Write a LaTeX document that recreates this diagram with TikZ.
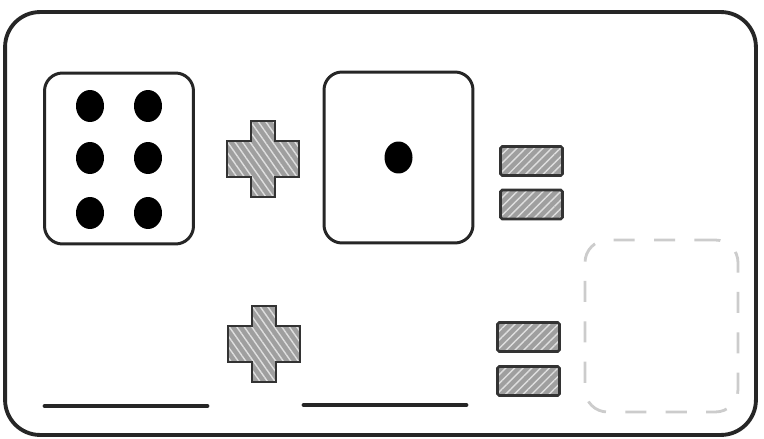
\documentclass[tikz,border=0pt]{standalone}
\usetikzlibrary{shapes.geometric, patterns.meta}

\begin{document}
\begin{tikzpicture}[x=0.02cm, y=-0.02cm,
  card/.style={draw=black!85, line width=2.2pt, rounded corners=0.7cm,
               minimum width=15.02cm, minimum height=8.46cm},
  die/.style={draw=black!85, line width=1.7pt, rounded corners=0.36cm,
              minimum width=2.98cm, minimum height=3.42cm},
  pip/.style={ellipse, fill=black, inner sep=0pt,
              minimum width=0.56cm, minimum height=0.64cm},
  hatch/.style={draw=black!80, line width=1.5pt, preaction={fill=gray!75},
                pattern={Lines[angle=45, distance=3.5pt, line width=0.8pt]},
                pattern color=gray!25},
  bar/.style={hatch, rounded corners=1pt, inner sep=0pt,
              minimum width=1.24cm, minimum height=0.58cm},
  slot/.style={draw=gray!40, line width=1.6pt, rounded corners=0.45cm,
               dash pattern=on 12pt off 11pt,
               minimum width=3.06cm, minimum height=3.44cm},
  blank/.style={draw=black!85, line width=2.8pt, line cap=round},
  plussign/.pic={
    \path[hatch, pattern={Lines[angle=-55, distance=3.5pt, line width=0.8pt]}]
      (-12,-38) -- (12,-38) -- (12,-18) -- (36,-18) -- (36,18) -- (12,18)
      -- (12,38) -- (-12,38) -- (-12,18) -- (-36,18) -- (-36,-18)
      -- (-12,-18) -- cycle;}]

  \path[fill=white, use as bounding box] (0,0) rectangle (764,439);

  \node[card] (card) at (380.5,223.5) {};

  % first row: six + one =
  \node[die] (six) at (119,158.5) {};
  \foreach \col/\xx in {a/90, b/148}
    \foreach \row/\yy in {1/106, 2/158, 3/213}
      \node[pip] (six\col\row) at (\xx,\yy) {};

  \pic (plusA) at (263,159) {plussign};

  \node[die] (one) at (398.5,157.5) {};
  \node[pip] (onepip) at (one.center) {};

  \node[bar] (eqA1) at (531.5,161) {};
  \node[bar] (eqA2) at (531.5,204.5) {};

  % second row: blanks
  \coordinate (blankA1) at (45,406);
  \coordinate (blankA2) at (207,406);
  \coordinate (blankB1) at (304,405);
  \coordinate (blankB2) at (466,405);
  \draw[blank] (blankA1) -- (blankA2);
  \draw[blank] (blankB1) -- (blankB2);

  \pic (plusB) at (264,344) {plussign};

  \node[bar] (eqB1) at (528.5,337) {};
  \node[bar] (eqB2) at (528.5,381) {};

  \node[slot] (answer) at (661.5,326) {};
\end{tikzpicture}
\end{document}
